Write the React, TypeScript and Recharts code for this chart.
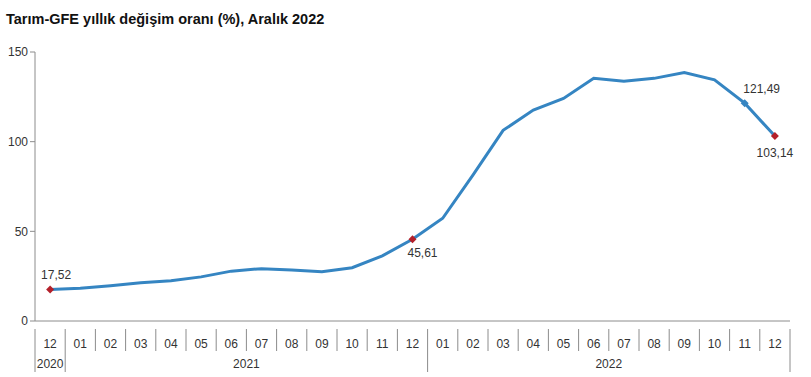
import React from 'react';
import { LineChart, Line, XAxis, YAxis } from 'recharts';

const months = ['12', '01', '02', '03', '04', '05', '06', '07', '08', '09', '10', '11', '12', '01', '02', '03', '04', '05', '06', '07', '08', '09', '10', '11', '12'];
const values = [17.52, 18.2, 19.7, 21.3, 22.5, 24.6, 27.8, 29.2, 28.5, 27.5, 29.7, 36.3, 45.61, 57.3, 81.4, 106.3, 117.6, 124.1, 135.4, 133.7, 135.3, 138.6, 134.5, 121.49, 103.14];
const yearLabels = ['2020', '2021', '2022'];
const yearSpans = [1, 12, 12];
const yTicks = [0, 50, 100, 150];

// points that carry a marker and a value label
const labelled = [0, 12, 23, 24];

const data = months.map((m, i) => ({ id: i, month: m, value: values[i] }));

const W = 811;
const H = 377;
const PLOT_L = 35;
const PLOT_R = 790;
const BAND = (PLOT_R - PLOT_L) / months.length;
const AXIS = '#8c8c8c';
const TXT = '#333';
const LINE = '#3585c2';
const RED = '#b3202a';
const FONT = 'Liberation Sans, Arial, sans-serif';

// start index of every year group
const yearStarts = yearSpans.map((_, k) => yearSpans.slice(0, k).reduce((a, b) => a + b, 0));

const MonthTick = (props: any) => {
  const { x, y, payload } = props;
  const i = props.index ?? payload.index;
  const left = x - BAND / 2;
  const right = x + BAND / 2;
  const isYearStart = yearStarts.includes(i);
  const els: React.ReactNode[] = [];
  els.push(<line key="l" x1={left} x2={left} y1={y} y2={isYearStart ? y + 43 : y + 22} stroke={AXIS} />);
  if (i === months.length - 1) {
    els.push(<line key="r" x1={right} x2={right} y1={y} y2={y + 43} stroke={AXIS} />);
  }
  els.push(
    <text key="m" x={x} y={y + 19} textAnchor="middle" fontSize={12} fill={TXT} fontFamily={FONT}>
      {months[i]}
    </text>
  );
  yearStarts.forEach((s, k) => {
    const centre = s + (yearSpans[k] - 1) / 2;
    if (Math.floor(centre) === i) {
      const cx = x + (centre - i) * BAND;
      els.push(
        <text key={'y' + k} x={cx} y={y + 39} textAnchor="middle" fontSize={12} fill={TXT} fontFamily={FONT}>
          {yearLabels[k]}
        </text>
      );
    }
  });
  return <g>{els}</g>;
};

const Diamond = (props: any) => {
  const { cx, cy, index } = props;
  if (!labelled.includes(index)) return <g key={index} />;
  const fill = index === 23 ? LINE : RED;
  const r = 4;
  return (
    <path
      key={index}
      d={`M${cx},${cy - r} L${cx + r},${cy} L${cx},${cy + r} L${cx - r},${cy} Z`}
      fill={fill}
    />
  );
};

const labelOffsets: Record<number, [number, number]> = {
  0: [6, -11],
  12: [10, 18],
  23: [17, -10],
  24: [0, 21],
};

const ValueLabel = (props: any) => {
  const { x, y, index } = props;
  if (!labelled.includes(index)) return null;
  const [dx, dy] = labelOffsets[index];
  return (
    <text x={x + dx} y={y + dy} textAnchor="middle" fontSize={12} fill={TXT} fontFamily={FONT}>
      {values[index].toFixed(2).replace('.', ',')}
    </text>
  );
};

export default function App() {
  return (
    <div style={{ position: 'absolute', left: 0, top: 0, width: W, height: H, background: '#fff', fontFamily: FONT }}>
      <div style={{ position: 'absolute', left: 6, top: 11, fontSize: 14.5, fontWeight: 'bold', color: '#111' }}>
        Tarım-GFE yıllık değişim oranı (%), Aralık 2022
      </div>
      <LineChart width={W} height={H} data={data} margin={{ top: 52, right: W - PLOT_R, bottom: 11, left: 0 }}>
        <XAxis
          dataKey="id"
          type="category"
          interval={0}
          padding={{ left: BAND / 2, right: BAND / 2 }}
          height={45}
          stroke={AXIS}
          tickLine={false}
          tick={<MonthTick />}
        />
        <YAxis
          width={PLOT_L}
          domain={[0, 150]}
          ticks={yTicks}
          stroke={AXIS}
          tickSize={5}
          tick={{ fontSize: 12, fill: TXT, fontFamily: FONT }}
        />
        <Line
          dataKey="value"
          type="linear"
          stroke={LINE}
          strokeWidth={3}
          dot={<Diamond />}
          activeDot={false}
          label={<ValueLabel />}
          isAnimationActive={false}
        />
      </LineChart>
    </div>
  );
}
